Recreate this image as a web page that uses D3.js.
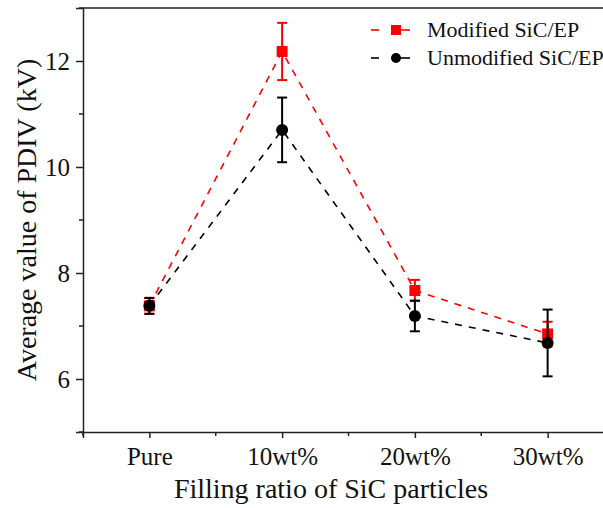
<!DOCTYPE html>
<html>
<head>
<meta charset="utf-8">
<script src="https://cdn.jsdelivr.net/npm/d3@7"></script>
<style>
  html, body { margin: 0; padding: 0; background: #fff; }
  svg { display: block; }
  svg text { font-family: "Liberation Serif", "Times New Roman", serif; }
</style>
</head>
<body>
<svg id="chart" width="603" height="508"></svg>
<script>
// Filling ratio categories
const categories = ["Pure", "10wt%", "20wt%", "30wt%"];

// Average PDIV (kV) and standard deviation
const modifiedValues = [7.38, 12.18, 7.67, 6.85];
const modifiedErrors = [0.15, 0.54, 0.20, 0.23];
const unmodifiedValues = [7.38, 10.70, 7.19, 6.68];
const unmodifiedErrors = [0.15, 0.61, 0.29, 0.63];

const yTicks = [6, 8, 10, 12];
const yMinorTicks = [5, 7, 9, 11, 13];

const seriesNames = ["Modified SiC/EP", "Unmodified SiC/EP"];

const series = [
  { name: seriesNames[0], values: modifiedValues, errors: modifiedErrors, color: "#ff0000", shape: "square" },
  { name: seriesNames[1], values: unmodifiedValues, errors: unmodifiedErrors, color: "#000000", shape: "circle" }
];

const FONT = "Liberation Serif";
const svg = d3.select("#chart");
const W = 603, H = 508;
const x0 = 83, x1 = 614, y0 = 432, y1 = 8;

const x = d3.scaleLinear().domain([-0.5, categories.length - 0.5]).range([x0, x1]);
const y = d3.scaleLinear().domain([5, 13]).range([y0, y1]);

// Frame top line
svg.append("line")
  .attr("x1", x0).attr("x2", W).attr("y1", y1).attr("y2", y1)
  .attr("stroke", "#222").attr("stroke-width", 1.5);

// Y axis
const yAxis = d3.axisLeft(y).tickValues(yTicks).tickSize(7).tickPadding(6).tickFormat(d3.format("d"));
const gy = svg.append("g").attr("transform", `translate(${x0},0)`).call(yAxis);
gy.select(".domain").attr("stroke", "#222").attr("stroke-width", 1.5);
gy.selectAll(".tick line").attr("stroke", "#222").attr("stroke-width", 1.5);
gy.selectAll(".tick text").attr("font-size", 25).attr("fill", "#111").attr("font-family", FONT);
gy.selectAll(".minor").data(yMinorTicks).enter().append("line")
  .attr("x1", -4).attr("x2", 0).attr("y1", d => y(d)).attr("y2", d => y(d))
  .attr("stroke", "#222").attr("stroke-width", 1.5);

// X axis
const xAxis = d3.axisBottom(x).tickValues(d3.range(categories.length)).tickSize(6).tickPadding(9)
  .tickFormat(i => categories[i]);
const gx = svg.append("g").attr("transform", `translate(0,${y0})`).call(xAxis);
gx.select(".domain").attr("stroke", "#222").attr("stroke-width", 1.5);
gx.selectAll(".tick line").attr("stroke", "#222").attr("stroke-width", 1.5);
gx.selectAll(".tick text").attr("font-size", 25).attr("fill", "#111").attr("font-family", FONT);
gx.selectAll(".minor").data(d3.range(categories.length + 1).map(i => i - 0.5)).enter().append("line")
  .attr("x1", d => x(d)).attr("x2", d => x(d)).attr("y1", 0).attr("y2", 4)
  .attr("stroke", "#222").attr("stroke-width", 1.5);

// Axis titles
svg.append("text")
  .attr("x", 331).attr("y", 498)
  .attr("text-anchor", "middle").attr("font-size", 28).attr("fill", "#111").attr("font-family", FONT)
  .text("Filling ratio of SiC particles");
svg.append("text")
  .attr("transform", "translate(36,220) rotate(-90)")
  .attr("text-anchor", "middle").attr("font-size", 28).attr("fill", "#111").attr("font-family", FONT)
  .text("Average value of PDIV (kV)");

const line = d3.line().x((d, i) => x(i)).y(d => y(d));

function drawMarker(g, shape, color, cx, cy, size) {
  if (shape === "square") {
    g.append("rect").attr("x", cx - size / 2).attr("y", cy - size / 2)
      .attr("width", size).attr("height", size).attr("fill", color);
  } else {
    g.append("circle").attr("cx", cx).attr("cy", cy).attr("r", size / 2).attr("fill", color);
  }
}

series.forEach(s => {
  const g = svg.append("g");
  g.append("path").datum(s.values)
    .attr("d", line).attr("fill", "none")
    .attr("stroke", s.color).attr("stroke-width", 1.6).attr("stroke-dasharray", "7,7");
  s.values.forEach((v, i) => {
    const cx = x(i);
    const top = y(v + s.errors[i]), bot = y(v - s.errors[i]);
    g.append("line").attr("x1", cx).attr("x2", cx).attr("y1", top).attr("y2", bot)
      .attr("stroke", s.color).attr("stroke-width", 2);
    [top, bot].forEach(yy => g.append("line")
      .attr("x1", cx - 5).attr("x2", cx + 5).attr("y1", yy).attr("y2", yy)
      .attr("stroke", s.color).attr("stroke-width", 2));
    drawMarker(g, s.shape, s.color, cx, y(v), s.shape === "square" ? 11 : 12);
  });
});

// Legend
const legend = svg.append("g").attr("transform", "translate(371,30)");
series.forEach((s, i) => {
  const row = legend.append("g").attr("transform", `translate(0,${i * 28})`);
  row.append("line").attr("x1", 0).attr("x2", 8).attr("stroke", s.color).attr("stroke-width", 1.6);
  row.append("line").attr("x1", 20).attr("x2", 39).attr("stroke", s.color).attr("stroke-width", 1.6);
  drawMarker(row, s.shape, s.color, 25, 0, 10);
  row.append("text").attr("x", 56).attr("y", 7)
    .attr("font-size", 22).attr("fill", "#111").attr("font-family", FONT).text(s.name);
});
</script>
</body>
</html>
